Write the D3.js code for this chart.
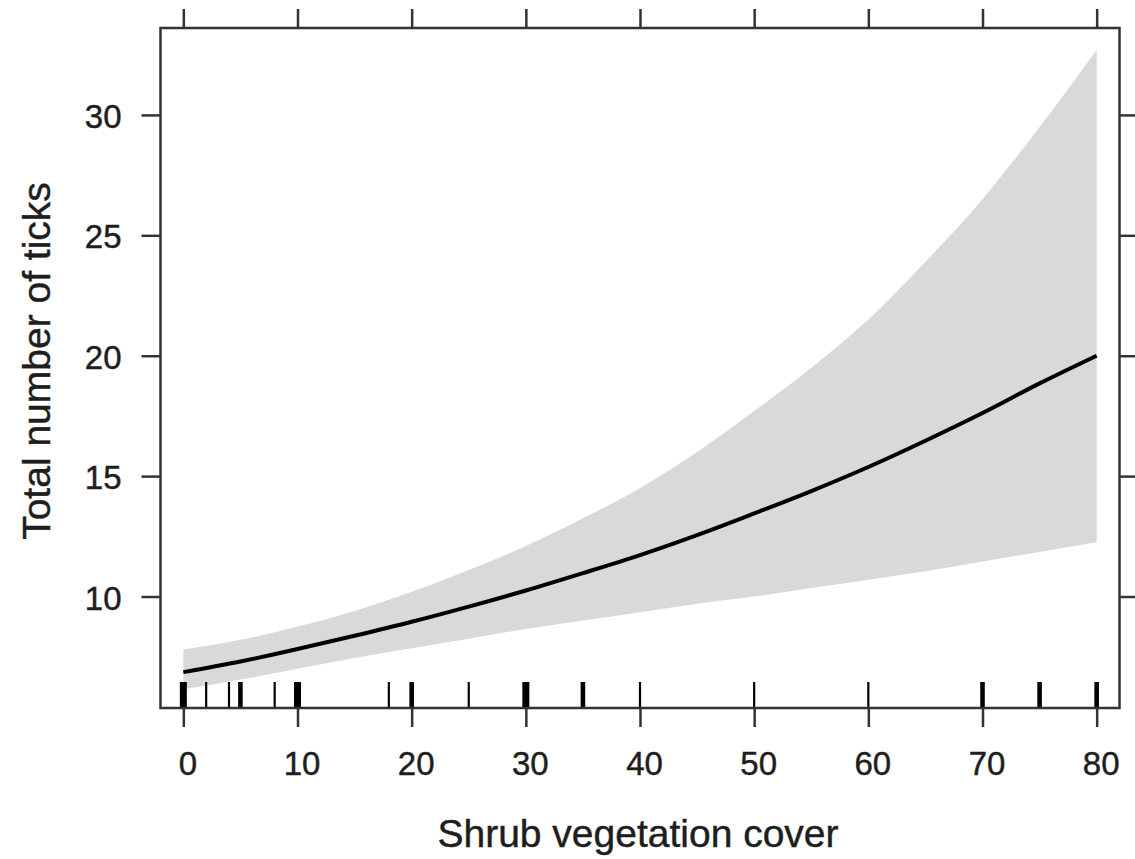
<!DOCTYPE html>
<html>
<head>
<meta charset="utf-8">
<script src="https://cdn.jsdelivr.net/npm/d3@7/dist/d3.min.js"></script>
<style>
  html, body { margin: 0; padding: 0; background: #fff; }
  svg { display: block; }
  text { font-family: "Liberation Sans", Arial, sans-serif; fill: #1e1e1e; stroke: #1e1e1e; stroke-width: 0.45px; }
</style>
</head>
<body>
<svg id="chart" width="1135" height="859"></svg>
<script>
// Effect of shrub vegetation cover on the total number of ticks
const coverValues = [0, 5, 10, 15, 20, 25, 30, 35, 40, 45, 50, 55, 60, 65, 70, 75, 80];
const fittedTicks = [6.86, 7.3, 7.82, 8.37, 8.95, 9.58, 10.25, 10.97, 11.72, 12.55, 13.45, 14.38, 15.38, 16.47, 17.62, 18.85, 20.0];
const upperCI     = [7.8, 8.2, 8.75, 9.4, 10.2, 11.1, 12.1, 13.25, 14.5, 16.0, 17.7, 19.5, 21.5, 23.9, 26.5, 29.5, 32.7];
const lowerCI     = [6.15, 6.55, 7.0, 7.45, 7.85, 8.25, 8.65, 9.0, 9.35, 9.7, 10.0, 10.35, 10.7, 11.05, 11.45, 11.85, 12.25];

// Observed shrub cover values (rug), repeated values appear as heavier marks
const observedCover = [0, 0, 0, 2, 4, 5, 5, 8, 10, 10, 10, 18, 20, 20, 25, 30, 30, 30, 35, 35,
                       40, 50, 60, 70, 70, 75, 75, 80, 80];

const xTicks = [0, 10, 20, 30, 40, 50, 60, 70, 80];
const yTicks = [10, 15, 20, 25, 30];

const xLabel = "Shrub vegetation cover";
const yLabel = "Total number of ticks";

const svg = d3.select("#chart");
const frame = { left: 160.5, right: 1119.5, top: 28, bottom: 708 };
const tickLen = 19;
const axisColor = "#333";

const x = d3.scaleLinear().domain([-2, 82]).range([frame.left, frame.right]);
const y = d3.scaleLinear().domain([5.37, 33.61]).range([frame.bottom, frame.top]);

const rows = coverValues.map((c, i) => ({ c, fit: fittedTicks[i], lo: lowerCI[i], hi: upperCI[i] }));

// Confidence band
svg.append("path")
  .datum(rows)
  .attr("fill", "#d9d9d9")
  .attr("stroke", "none")
  .attr("d", d3.area()
    .x(d => x(d.c))
    .y0(d => y(d.lo))
    .y1(d => y(d.hi))
    .curve(d3.curveMonotoneX));

// Fitted line
svg.append("path")
  .datum(rows)
  .attr("fill", "none")
  .attr("stroke", "#000")
  .attr("stroke-width", 4)
  .attr("stroke-linejoin", "round")
  .attr("d", d3.line()
    .x(d => x(d.c))
    .y(d => y(d.fit))
    .curve(d3.curveMonotoneX));

// Rug of observed values
const rugCounts = d3.rollups(observedCover, v => v.length, d => d);
svg.append("g")
  .selectAll("line")
  .data(rugCounts)
  .join("line")
  .attr("x1", d => x(d[0]))
  .attr("x2", d => x(d[0]))
  .attr("y1", frame.bottom)
  .attr("y2", frame.bottom - 26)
  .attr("stroke", "#000")
  .attr("stroke-width", d => 2.2 + 2.4 * (d[1] - 1));

// Axes on all four sides
const axisStyle = g => {
  g.select(".domain").remove();
  g.selectAll(".tick line").attr("stroke", axisColor).attr("stroke-width", 2.5);
};

svg.append("g")
  .attr("transform", `translate(0,${frame.bottom})`)
  .call(d3.axisBottom(x).tickValues(xTicks).tickSize(tickLen).tickPadding(0).tickFormat(d3.format("d")))
  .call(axisStyle)
  .call(g => g.selectAll(".tick text")
    .attr("font-size", 33)
    .attr("dy", null)
    .attr("dx", 4)
    .attr("y", 67)
    .style("font-family", "'Liberation Sans', Arial, sans-serif")
    .attr("fill", "#1e1e1e"));

svg.append("g")
  .attr("transform", `translate(0,${frame.top})`)
  .call(d3.axisTop(x).tickValues(xTicks).tickSize(tickLen).tickFormat(""))
  .call(axisStyle);

svg.append("g")
  .attr("transform", `translate(${frame.left},0)`)
  .call(d3.axisLeft(y).tickValues(yTicks).tickSize(tickLen).tickPadding(20).tickFormat(d3.format("d")))
  .call(axisStyle)
  .call(g => g.selectAll(".tick text")
    .attr("font-size", 33)
    .attr("dy", "0.38em")
    .style("font-family", "'Liberation Sans', Arial, sans-serif")
    .attr("fill", "#1e1e1e"));

svg.append("g")
  .attr("transform", `translate(${frame.right},0)`)
  .call(d3.axisRight(y).tickValues(yTicks).tickSize(tickLen).tickFormat(""))
  .call(axisStyle);

// Plot frame
svg.append("rect")
  .attr("x", frame.left)
  .attr("y", frame.top)
  .attr("width", frame.right - frame.left)
  .attr("height", frame.bottom - frame.top)
  .attr("fill", "none")
  .attr("stroke", axisColor)
  .attr("stroke-width", 2.5);

// Axis titles
svg.append("text")
  .attr("x", 638)
  .attr("y", 847)
  .attr("text-anchor", "middle")
  .attr("font-size", 39)
  .text(xLabel);

svg.append("text")
  .attr("transform", "translate(50,361) rotate(-90)")
  .attr("text-anchor", "middle")
  .attr("font-size", 39)
  .text(yLabel);
</script>
</body>
</html>
